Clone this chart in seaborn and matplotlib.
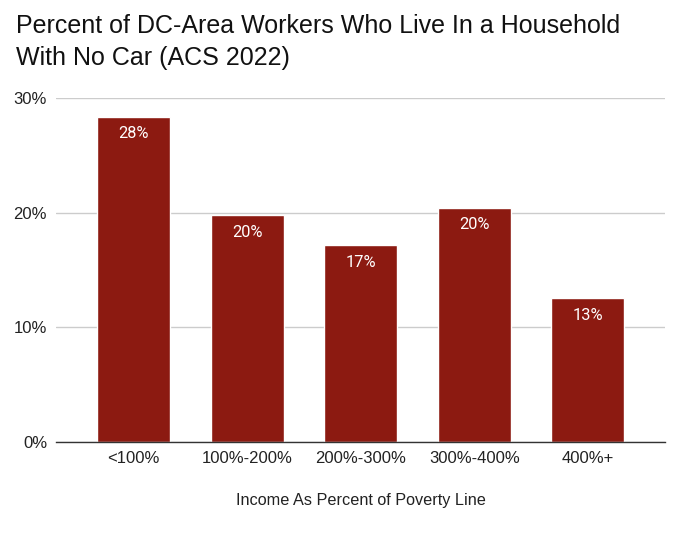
import matplotlib
matplotlib.use("Agg")
import matplotlib.pyplot as plt
import seaborn as sns
import pandas as pd

sns.set_style("whitegrid")
plt.rcParams['font.family'] = ['Liberation Sans', 'DejaVu Sans']

categories = ["<100%", "100%-200%", "200%-300%", "300%-400%", "400%+"]
values = [28.4, 19.8, 17.2, 20.45, 12.55]
value_labels = ["28%", "20%", "17%", "20%", "13%"]
title_lines = ["Percent of DC-Area Workers Who Live In a Household",
               "With No Car (ACS 2022)"]

df = pd.DataFrame({"income": categories, "pct": values})

fig = plt.figure(figsize=(6.8, 5.42), dpi=100)
ax = fig.add_axes([0.0824, 0.185, 0.896, 0.6336])

sns.barplot(data=df, x="income", y="pct", color="#8c1a11", saturation=1,
            width=0.643, ax=ax, zorder=3)

ax.set_xlim(-0.683, 4.683)
ax.set_ylim(0, 30)
ax.set_yticks([0, 10, 20, 30])
ax.set_yticklabels(["0%", "10%", "20%", "30%"])

ax.grid(axis="y", color="#cccccc", linewidth=1, zorder=0)
ax.grid(axis="x", visible=False)
for side in ["top", "right", "left"]:
    ax.spines[side].set_visible(False)
ax.spines["bottom"].set_color("#333333")
ax.spines["bottom"].set_linewidth(1)
ax.spines["bottom"].set_zorder(4)

ax.tick_params(axis="y", length=0, pad=6.5, labelsize=12, labelcolor="#222222")
ax.tick_params(axis="x", length=0, pad=7, labelsize=12, labelcolor="#222222")

ax.set_xlabel("Income As Percent of Poverty Line", fontsize=11.7,
              color="#222222", labelpad=19)
ax.set_ylabel("")

for i, (v, lab) in enumerate(zip(values, value_labels)):
    ax.annotate(lab, xy=(i, v), xytext=(0, -12.5), textcoords="offset points",
                ha="center", va="center", color="white", fontsize=11.8,
                family=["Roboto", "DejaVu Sans"], zorder=5)

# title, one text per line so each baseline sits where the reference has it
fig.text(0.0235, 1 - 33 / 542, title_lines[0], fontsize=18, color="#111111",
         ha="left", va="baseline")
fig.text(0.0235, 1 - 65 / 542, title_lines[1], fontsize=18, color="#111111",
         ha="left", va="baseline")

fig.savefig("out.png", dpi=100, facecolor="white")
